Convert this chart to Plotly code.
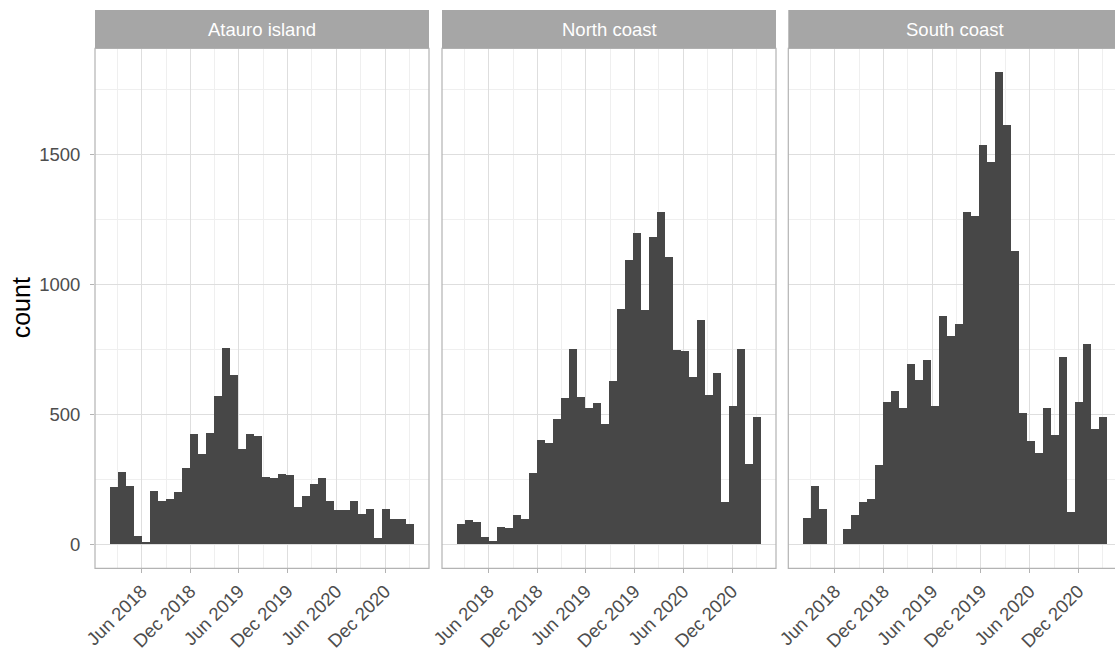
import pandas as pd
import plotly.graph_objects as go

# ---- data ----
regions = ["Atauro island", "North coast", "South coast"]
bin_start = "2018-02-03"   # left edge of first histogram bin
bin_days = 30              # histogram bin width (days)

atauro = [219, 278, 224, 31, 10, 206, 165, 176, 203, 292, 423, 346, 427, 570, 754, 651,
          367, 424, 415, 259, 255, 272, 265, 142, 186, 233, 256, 165, 131, 131, 167, 115,
          136, 26, 135, 96, 97, 77]
north = [79, 92, 86, 28, 14, 65, 63, 113, 96, 274, 401, 390, 483, 563, 751, 565,
         523, 545, 464, 629, 904, 1094, 1199, 901, 1182, 1278, 1106, 747, 742, 642, 862, 573,
         659, 164, 532, 751, 310, 488]
south = [100, 226, 135, 0, 0, 59, 114, 163, 176, 304, 549, 588, 524, 692, 631, 710,
         533, 877, 801, 846, 1278, 1263, 1535, 1472, 1818, 1613, 1128, 504, 397, 353, 526, 419,
         720, 123, 546, 769, 444, 488]
series = [atauro, north, south]

x_tick0 = "2018-06-01"
y_major = 500

# ---- derived ----
W, H = 1115, 648
nb = len(atauro)
start = pd.Timestamp(bin_start)
centers = [start + pd.Timedelta(days=bin_days * i + bin_days / 2) for i in range(nb)]
end = start + pd.Timedelta(days=bin_days * nb)
span = end - start
x0 = start - span * 0.05
x1 = end + span * 0.05
ymax = max(max(s) for s in series)
yrange = [-0.05 * ymax, 1.05 * ymax]

# panel geometry in pixels
panels_px = [(95, 429), (442, 776), (788.3, 1122.3)]
top_px, bot_px, strip_top_px = 48.3, 568.3, 10

def px_x(p):
    return p / W

def px_y(p):
    return 1 - p / H

fig = go.Figure()
bar_color = "#474747"
grid_major = "#dedede"
grid_minor = "#efefef"
border = "#b3b3b3"

layout = dict(
    width=W, height=H,
    margin=dict(l=0, r=0, t=0, b=0, pad=0),
    plot_bgcolor="white", paper_bgcolor="white",
    font=dict(family="Liberation Sans, Arial, sans-serif", size=18.5, color="#4d4d4d"),
    showlegend=False,
    bargap=0,
)
shapes = []
annotations = []

for i, (name, vals) in enumerate(zip(regions, series)):
    k = "" if i == 0 else str(i + 1)
    fig.add_trace(go.Bar(
        x=centers, y=vals,
        width=bin_days * 86400000,
        marker=dict(color=bar_color, line=dict(width=0)),
        xaxis="x" + k, yaxis="y" + k,
        hoverinfo="x+y",
    ))
    lpx, rpx = panels_px[i]
    dom_r = min(rpx, W)
    frac = (dom_r - lpx) / (rpx - lpx)
    xr1 = x0 + (x1 - x0) * frac
    layout["xaxis" + k] = dict(
        type="date",
        domain=[px_x(lpx), px_x(dom_r)],
        range=[x0, xr1],
        anchor="y" + k,
        automargin=False,
        tick0=x_tick0, dtick="M6", tickformat="%b %Y",
        tickangle=-45,
        ticks="outside", ticklen=4, tickcolor=border, tickwidth=1,
        showgrid=True, gridcolor=grid_major, gridwidth=1,
        minor=dict(dtick="M3", tick0="2018-03-01", showgrid=True,
                   gridcolor=grid_minor, gridwidth=0.8, ticks=""),
        zeroline=False, showline=False,
        tickfont=dict(size=18.5, color="#4d4d4d"),
        fixedrange=True,
    )
    layout["yaxis" + k] = dict(
        domain=[px_y(bot_px), px_y(top_px)],
        range=yrange,
        anchor="x" + k,
        automargin=False,
        tick0=0, dtick=y_major,
        showticklabels=(i == 0),
        ticks="outside" if i == 0 else "",
        ticklen=4, tickcolor=border, tickwidth=1,
        ticklabelstandoff=6,
        showgrid=True, gridcolor=grid_major, gridwidth=1,
        minor=dict(dtick=y_major / 2, showgrid=True, gridcolor=grid_minor,
                   gridwidth=0.8, ticks=""),
        zeroline=False, showline=False,
        tickfont=dict(size=18.5, color="#4d4d4d"),
        fixedrange=True,
    )
    # panel border
    shapes.append(dict(type="rect", xref="paper", yref="paper",
                       x0=px_x(lpx), x1=px_x(rpx), y0=px_y(bot_px), y1=px_y(top_px),
                       line=dict(color=border, width=1.2), fillcolor="rgba(0,0,0,0)",
                       layer="above"))
    # strip
    shapes.append(dict(type="rect", xref="paper", yref="paper",
                       x0=px_x(lpx), x1=px_x(rpx), y0=px_y(top_px), y1=px_y(strip_top_px),
                       line=dict(width=0), fillcolor="#a6a6a6", layer="above"))
    annotations.append(dict(text=name, xref="paper", yref="paper",
                            x=px_x((lpx + rpx) / 2), y=px_y((top_px + strip_top_px) / 2),
                            xanchor="center", yanchor="middle", showarrow=False,
                            font=dict(size=18.5, color="white")))

annotations.append(dict(text="count", xref="paper", yref="paper",
                        x=px_x(21), y=px_y((top_px + bot_px) / 2),
                        xanchor="center", yanchor="middle", textangle=-90,
                        showarrow=False, font=dict(size=25, color="black")))

layout["shapes"] = shapes
layout["annotations"] = annotations
fig.update_layout(**layout)
fig.write_html("out.html",
               config={"displayModeBar": False},
               post_script="document.body.style.margin='0px';document.body.style.overflow='hidden';")
